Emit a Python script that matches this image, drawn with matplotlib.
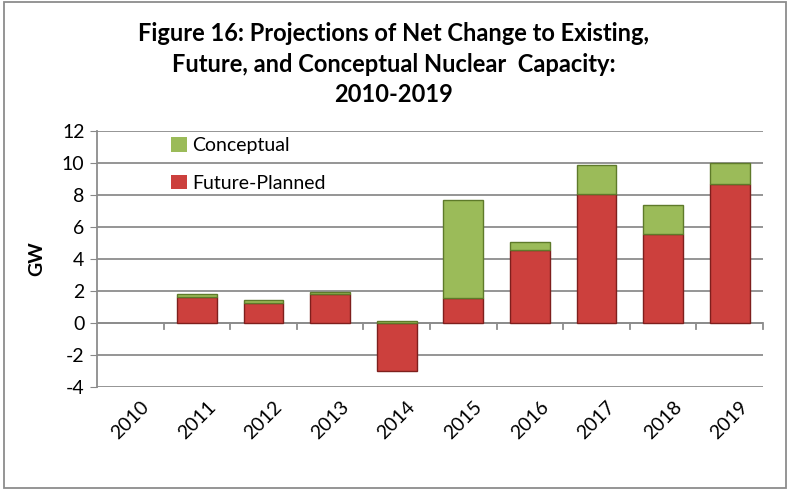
import matplotlib.pyplot as plt
import numpy as np
from matplotlib.patches import Rectangle

years = ['2010', '2011', '2012', '2013', '2014', '2015', '2016', '2017', '2018', '2019']
future_planned = [0, 1.65, 1.27, 1.8, -3.0, 1.55, 4.56, 8.04, 5.57, 8.67]
conceptual = [0, 0.18, 0.17, 0.15, 0.12, 6.12, 0.48, 1.83, 1.79, 1.33]

red = '#CC403D'
red_edge = '#7E1F1D'
green = '#9BBB59'
green_edge = '#5E7A2A'

plt.rcParams['font.family'] = ['Lato', 'DejaVu Sans']
plt.rcParams['axes.unicode_minus'] = False

fig = plt.figure(figsize=(7.88, 4.9), dpi=100)
ax = fig.add_axes([97 / 788, 1 - 387 / 490, 666 / 788, 256 / 490])

x = np.arange(len(years))
fp = np.array(future_planned)
cp = np.array(conceptual)
# negative values stack downward, positive conceptual starts at 0 there
base = np.where(fp > 0, fp, 0)
lw_fp = np.where(fp != 0, 1.0, 0)
lw_cp = np.where(cp != 0, 1.0, 0)

ax.bar(x, fp, width=0.6, color=red, edgecolor=red_edge, linewidth=lw_fp,
       label='Future-Planned', zorder=3)
ax.bar(x, cp, width=0.6, bottom=base, color=green, edgecolor=green_edge,
       linewidth=lw_cp, label='Conceptual', zorder=3)

ax.set_xlim(-0.5, len(years) - 0.5)
ax.set_ylim(-4, 12)
ax.set_yticks(np.arange(-4, 13, 2))
ax.tick_params(axis='y', labelsize=14, length=5, color='#888888', pad=4)
ax.grid(axis='y', color='#8c8c8c', linewidth=1.3, zorder=0)

for s in ['top', 'right', 'bottom']:
    ax.spines[s].set_visible(False)
ax.spines['left'].set_color('#8c8c8c')
ax.spines['left'].set_linewidth(1.3)

# x axis drawn at zero with ticks between categories
ax.axhline(0, color='#8c8c8c', linewidth=1.3, zorder=2)
ax.set_xticks(x)
ax.set_xticklabels(years, rotation=45, fontsize=14)
ax.tick_params(axis='x', length=0, pad=8)
for b in np.arange(0.5, len(years), 1.0):
    ax.plot([b, b], [0, -0.35], color='#8c8c8c', linewidth=1.3, zorder=2,
            clip_on=False)

ax.set_ylabel('GW', fontsize=14, fontweight='bold', labelpad=12)

handles, labels = ax.get_legend_handles_labels()
leg = ax.legend(handles[::-1], labels[::-1], loc='upper left',
                bbox_to_anchor=(0.085, 1.045), frameon=False, fontsize=14,
                handlelength=0.8, handleheight=0.8, handletextpad=0.3,
                labelspacing=1.05)

fig.suptitle('Figure 16: Projections of Net Change to Existing,\n'
             'Future, and Conceptual Nuclear  Capacity:\n2010-2019',
             x=0.5, y=0.955, fontsize=17, fontweight='bold',
             linespacing=1.4)

fig.patches.append(Rectangle((4 / 788, 2 / 490), 782 / 788, 486 / 490,
                             transform=fig.transFigure, fill=False,
                             edgecolor='#8c8c8c', linewidth=1.3))

fig.savefig('out.png', dpi=100)
